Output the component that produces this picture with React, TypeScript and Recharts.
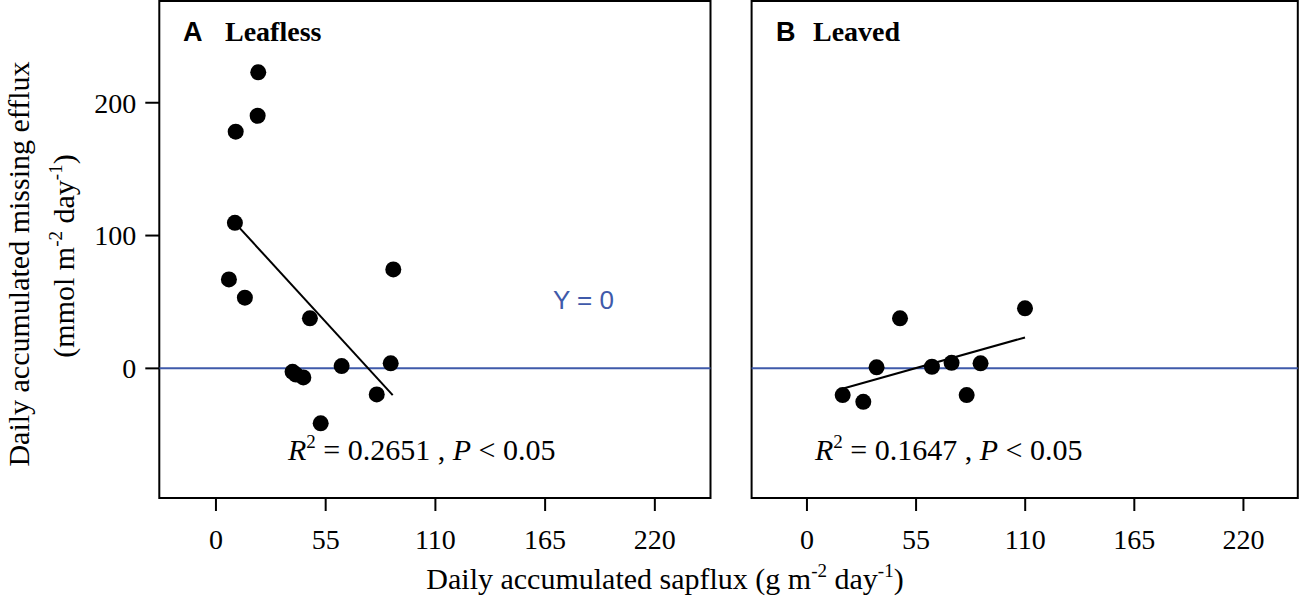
import React from 'react';
import { ScatterChart, Scatter, XAxis, YAxis, ReferenceLine, ReferenceArea } from 'recharts';

// axis ticks
const xTicks = [0, 55, 110, 165, 220];
const yTicks = [0, 100, 200];

// panel A - leafless
const leaflessX = [21.2, 20.9, 9.9, 9.5, 6.5, 14.5, 47.1, 88.9, 38.4, 40.1, 43.8, 63.0, 87.6, 80.6, 52.5];
const leaflessY = [222.9, 190.2, 178.2, 109.6, 67.0, 53.2, 37.7, 74.5, -2.6, -4.7, -6.8, 1.7, 3.8, -19.6, -41.4];
const leaflessFitX = [9.5, 88.6];
const leaflessFitY = [109.6, -20.1];

// panel B - leaved
const leavedX = [18.0, 28.4, 35.1, 46.9, 63.0, 72.9, 80.5, 87.5, 109.9];
const leavedY = [-20.1, -25.2, 0.8, 37.7, 1.2, 4.2, -20.1, 3.8, 45.2];
const leavedFitX = [18.3, 109.9];
const leavedFitY = [-15.1, 23.3];

const Y_DOMAIN: [number, number] = [-97.6, 276.6];
const BLUE = '#3F5AAA';
const SERIF = '"Liberation Serif", "Times New Roman", serif';
const SANS = '"Liberation Sans", Arial, sans-serif';
const SUP = 19;
const RISE = 12;

const toPoints = (xs: number[], ys: number[]) => xs.map((x, i) => ({ x, y: ys[i] }));

const Dot = (props: any) => <circle cx={props.cx} cy={props.cy} r={8} fill="#000" />;

interface PanelProps {
    left: number;
    width: number;
    yAxisWidth: number;
    rightMargin: number;
    xDomain: [number, number];
    xs: number[];
    ys: number[];
    fitX: number[];
    fitY: number[];
    showYLabels: boolean;
}

function Panel({ left, width, yAxisWidth, rightMargin, xDomain, xs, ys, fitX, fitY, showYLabels }: PanelProps) {
    const tickStyle = { fontFamily: SERIF, fontSize: 28, fill: '#000' };
    return (
        <div style={{ position: 'absolute', left, top: 0 }}>
            <ScatterChart width={width} height={600} margin={{ top: 1, right: rightMargin, bottom: 42, left: 0 }}>
                <XAxis
                    type="number"
                    dataKey="x"
                    domain={xDomain}
                    ticks={xTicks}
                    allowDataOverflow
                    height={60}
                    axisLine={false}
                    tickLine={{ stroke: '#000', strokeWidth: 2 }}
                    tickSize={13}
                    tickMargin={18}
                    tick={tickStyle}
                />
                <YAxis
                    type="number"
                    dataKey="y"
                    domain={Y_DOMAIN}
                    ticks={yTicks}
                    allowDataOverflow
                    width={yAxisWidth}
                    axisLine={false}
                    tickLine={{ stroke: '#000', strokeWidth: 2 }}
                    tickSize={14}
                    tickMargin={9}
                    tick={showYLabels ? tickStyle : false}
                />
                <ReferenceArea
                    x1={xDomain[0]}
                    x2={xDomain[1]}
                    y1={Y_DOMAIN[0]}
                    y2={Y_DOMAIN[1]}
                    fill="none"
                    stroke="#000"
                    strokeWidth={2}
                    ifOverflow="visible"
                />
                <ReferenceLine y={0} stroke={BLUE} strokeWidth={2} />
                <ReferenceLine
                    segment={[{ x: fitX[0], y: fitY[0] }, { x: fitX[1], y: fitY[1] }]}
                    stroke="#000"
                    strokeWidth={2}
                />
                <Scatter data={toPoints(xs, ys)} shape={Dot} isAnimationActive={false} />
            </ScatterChart>
        </div>
    );
}

function Stat({ x, r2 }: { x: number; r2: string }) {
    return (
        <text x={x} y={460} fontFamily={SERIF} fontSize={30}>
            <tspan fontStyle="italic">R</tspan>
            <tspan fontSize={SUP} dy={-RISE}>2</tspan>
            <tspan dy={RISE}>{` = ${r2} , `}</tspan>
            <tspan fontStyle="italic">P</tspan>
            <tspan>{' < 0.05'}</tspan>
        </text>
    );
}

// "... m-2 day-1)" with superscripts
function UnitTitle({ lead, ...rest }: { lead: string; [k: string]: any }) {
    return (
        <text fontFamily={SERIF} fontSize={30} textAnchor="middle" {...rest}>
            <tspan>{`${lead} m`}</tspan>
            <tspan fontSize={SUP} dy={-RISE}>-2</tspan>
            <tspan dy={RISE}>{' day'}</tspan>
            <tspan fontSize={SUP} dy={-RISE}>-1</tspan>
            <tspan dy={RISE}>)</tspan>
        </text>
    );
}

export default function App() {
    return (
        <div style={{ position: 'absolute', left: 0, top: 0, width: 1299, height: 600, background: '#fff' }}>
            <Panel
                left={0}
                width={730}
                yAxisWidth={159.3}
                rightMargin={19.5}
                xDomain={[-28.4, 247.9]}
                xs={leaflessX}
                ys={leaflessY}
                fitX={leaflessFitX}
                fitY={leaflessFitY}
                showYLabels
            />
            <Panel
                left={700}
                width={599}
                yAxisWidth={51.6}
                rightMargin={1.2}
                xDomain={[-27.9, 247.4]}
                xs={leavedX}
                ys={leavedY}
                fitX={leavedFitX}
                fitY={leavedFitY}
                showYLabels={false}
            />
            <svg
                width={1299}
                height={600}
                style={{ position: 'absolute', left: 0, top: 0, pointerEvents: 'none' }}
            >
                {/* panel titles */}
                <text x={183} y={41} fontFamily={SANS} fontWeight="bold" fontSize={27}>A</text>
                <text x={225} y={41} fontFamily={SERIF} fontWeight="bold" fontSize={28}>Leafless</text>
                <text x={776} y={41} fontFamily={SANS} fontWeight="bold" fontSize={27}>B</text>
                <text x={813} y={41} fontFamily={SERIF} fontWeight="bold" fontSize={28}>Leaved</text>

                <text x={553} y={309} fontFamily={SANS} fontSize={26} fill={BLUE}>Y = 0</text>

                {/* fit statistics */}
                <Stat x={288} r2="0.2651" />
                <Stat x={815} r2="0.1647" />

                {/* axis titles */}
                <UnitTitle lead="Daily accumulated sapflux (g" x={665} y={589} />
                <text
                    transform="translate(29,264) rotate(-90)"
                    textAnchor="middle"
                    fontFamily={SERIF}
                    fontSize={30}
                >
                    Daily accumulated missing efflux
                </text>
                <UnitTitle lead="(mmol" transform="translate(74,256) rotate(-90)" />
            </svg>
        </div>
    );
}
